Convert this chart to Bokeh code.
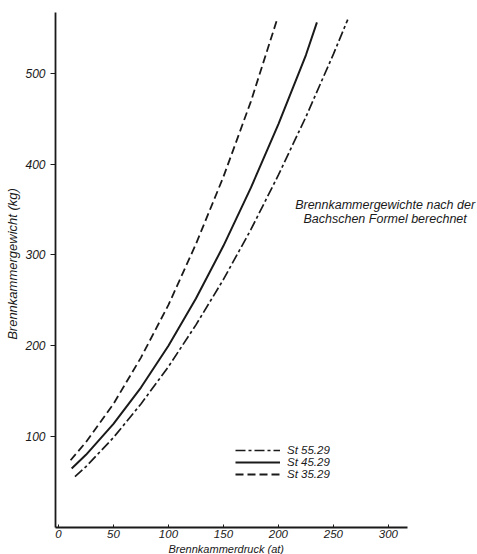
from bokeh.plotting import figure
from bokeh.models import Range1d, FixedTicker, Legend, LegendItem, Label, Title
from bokeh.embed import file_html
from bokeh.resources import INLINE

# --- data ---
x_st35 = [11, 25, 50, 75, 100, 125, 150, 175, 199]
y_st35 = [74, 94, 136, 187, 245, 312, 386, 469, 560]

x_st45 = [12, 25, 50, 75, 100, 125, 150, 175, 200, 225, 235]
y_st45 = [65, 80, 114, 154, 200, 252, 310, 374, 444, 520, 556]

x_st55 = [15, 25, 50, 75, 100, 125, 150, 175, 200, 225, 250, 263]
y_st55 = [56, 67, 99, 136, 177, 223, 273, 328, 388, 452, 521, 559]

x_ticks = [0, 50, 100, 150, 200, 250, 300]
y_ticks = [100, 200, 300, 400, 500]

labels = ["St 55.29", "St 45.29", "St 35.29"]
x_title = "Brennkammerdruck (at)"
y_title = "Brennkammergewicht (kg)"
note_lines = ["Brennkammergewichte nach der", "Bachschen Formel berechnet"]
note_x = 297
note_y = [355, 340]

FONT = "Liberation Sans"
INK = "#1a1a1a"

p = figure(width=477, height=554, x_range=Range1d(-2.7, 381), y_range=Range1d(0, 580),
           output_backend="svg", toolbar_location=None,
           min_border_left=55, min_border_right=0, min_border_top=0, min_border_bottom=0)
p.background_fill_color = "white"
p.border_fill_color = "white"
p.outline_line_color = None
p.xgrid.visible = False
p.ygrid.visible = False

r35 = p.line(x_st35, y_st35, line_color=INK, line_width=1.8, line_dash="8 4")
r45 = p.line(x_st45, y_st45, line_color=INK, line_width=2.0)
r55 = p.line(x_st55, y_st55, line_color=INK, line_width=1.7, line_dash="10 3 3 3")

xa = p.xaxis[0]
xa.bounds = (-2.7, 317)
xa.ticker = FixedTicker(ticks=x_ticks)
xa.axis_line_width = 1.8
xa.axis_line_color = INK
xa.major_tick_in = 3
xa.major_tick_out = 0
xa.major_tick_line_color = INK
xa.minor_tick_line_color = None
xa.major_label_standoff = 2
xa.major_label_text_font = FONT
xa.major_label_text_font_style = "italic"
xa.major_label_text_font_size = "11.5px"
xa.major_label_text_color = INK

ya = p.yaxis[0]
ya.bounds = (0, 567)
ya.ticker = FixedTicker(ticks=y_ticks)
ya.axis_line_width = 1.8
ya.axis_line_color = INK
ya.major_tick_in = 0
ya.major_tick_out = 5
ya.major_tick_line_color = INK
ya.minor_tick_line_color = None
ya.major_label_standoff = 5
ya.major_label_text_font = FONT
ya.major_label_text_font_style = "italic"
ya.major_label_text_font_size = "12px"
ya.major_label_text_color = INK
ya.axis_label = y_title
ya.axis_label_standoff = 2
ya.axis_label_text_font = FONT
ya.axis_label_text_font_style = "italic"
ya.axis_label_text_font_size = "13px"
ya.axis_label_text_color = INK

p.add_layout(Title(text=x_title, align="left", offset=113, standoff=0,
                   text_font=FONT, text_font_style="italic", text_font_size="11px",
                   text_color=INK), "below")

legend = Legend(items=[LegendItem(label=labels[0], renderers=[r55]),
                       LegendItem(label=labels[1], renderers=[r45]),
                       LegendItem(label=labels[2], renderers=[r35])],
                location=(180, 47), border_line_color=None, background_fill_alpha=0,
                padding=0, margin=0, spacing=-2, glyph_width=45, glyph_height=10,
                label_height=10, label_standoff=7, label_text_font=FONT,
                label_text_font_size="11.5px", label_text_font_style="italic",
                label_text_color=INK)
p.add_layout(legend)

for txt, yy in zip(note_lines, note_y):
    p.add_layout(Label(x=note_x, y=yy, text=txt, text_align="center", text_baseline="middle",
                       text_font=FONT, text_font_style="italic", text_font_size="12.5px",
                       text_color=INK))

open("out.html", "w").write(file_html(p, INLINE))
